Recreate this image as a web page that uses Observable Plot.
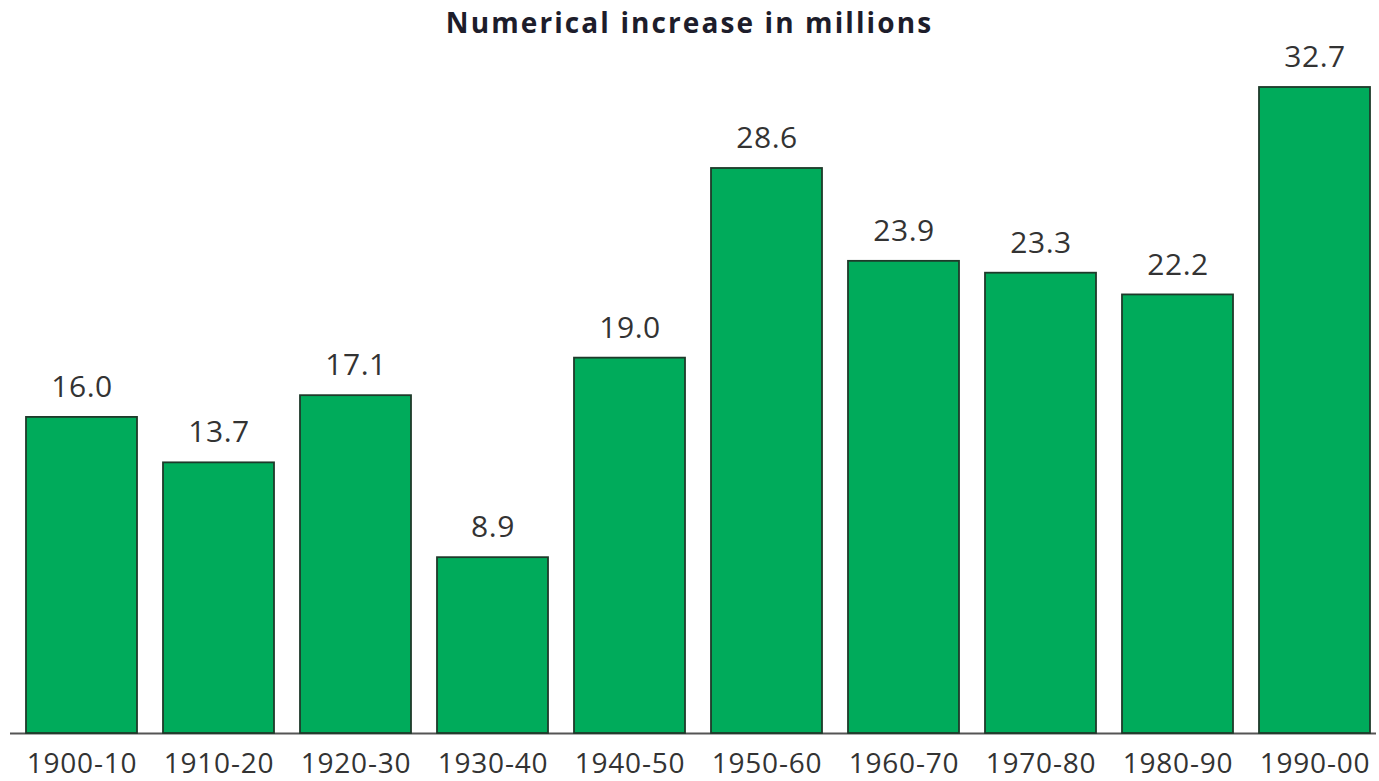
<!DOCTYPE html>
<html>
<head>
<meta charset="utf-8">
<script src="https://cdn.jsdelivr.net/npm/d3@7"></script>
<script src="https://cdn.jsdelivr.net/npm/@observablehq/plot@0.6"></script>
<style>
  html, body { margin: 0; padding: 0; background: #fff; }
  #wrap { position: relative; width: 1379px; height: 781px; }
  #title {
    position: absolute; left: 0; top: 4px; z-index: 2;
    height: 36px; width: 1379px;
    display: flex; align-items: center; justify-content: center;
    font-family: "Open Sans", sans-serif; font-weight: 700; font-size: 28px;
    letter-spacing: 2.1px; color: #1d1d2b;
  }
  #chart svg { display: block; }
</style>
</head>
<body>
<div id="wrap">
<div id="title">Numerical increase in millions</div>
<div id="chart"></div>
</div>
<script>
const periods = ["1900-10","1910-20","1920-30","1930-40","1940-50","1950-60","1960-70","1970-80","1980-90","1990-00"];
const increase = [16.0, 13.7, 17.1, 8.9, 19.0, 28.6, 23.9, 23.3, 22.2, 32.7];

const data = periods.map((p, i) => ({period: p, value: increase[i]}));

const chart = Plot.plot({
  width: 1379,
  height: 781,
  marginTop: 45.5,
  marginBottom: 48,
  marginLeft: 23,
  marginRight: 5,
  style: {fontFamily: "Open Sans, sans-serif", background: "#fff"},
  x: {domain: periods, paddingInner: 0.187, paddingOuter: 0, axis: null},
  y: {domain: [0, 34.8], axis: null},
  marks: [
    Plot.ruleY([0], {stroke: "#555", strokeWidth: 2, insetLeft: -13, insetRight: -2}),
    Plot.barY(data, {x: "period", y: "value", fill: "#00ab5b", stroke: "#1e3a2a", strokeWidth: 1.8}),
    Plot.text(data, {x: "period", y: "value", text: d => d.value.toFixed(1), lineAnchor: "middle", dy: -30, fontSize: 30, fill: "#333"}),
    Plot.text(periods, {x: d => d, frameAnchor: "bottom", lineAnchor: "middle", dy: 31, fontSize: 28, fill: "#333"})
  ]
});
document.getElementById("chart").appendChild(chart);
const groups = d3.select(chart).selectAll('g[aria-label="text"]');
groups.each(function(d, i) {
  d3.select(this).style("letter-spacing", i === 0 ? "0.6px" : "0.8px");
});
</script>
</body>
</html>
